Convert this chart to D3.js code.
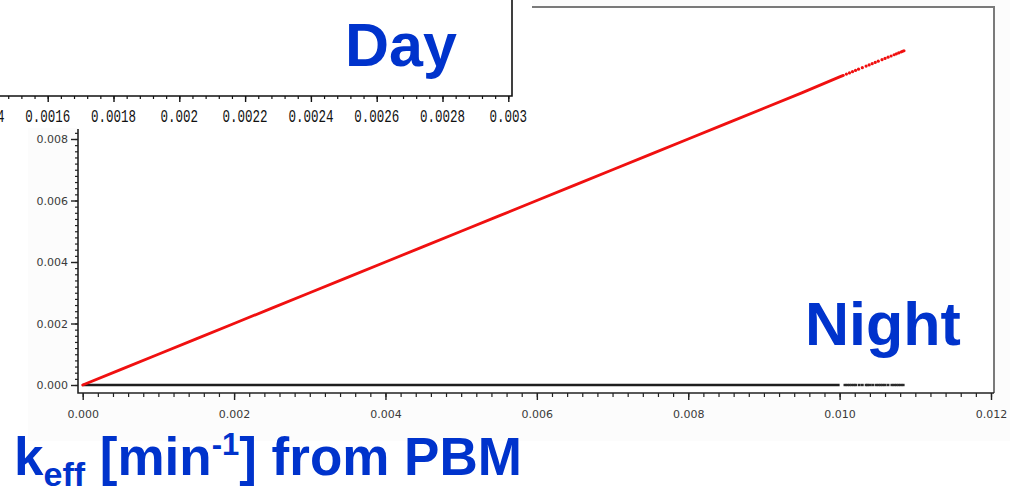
<!DOCTYPE html>
<html>
<head>
<meta charset="utf-8">
<script src="https://cdn.jsdelivr.net/npm/d3@7/dist/d3.min.js"></script>
<style>
  html, body { margin: 0; padding: 0; background: #ffffff; }
  svg { display: block; }
</style>
</head>
<body>
<svg id="chart" width="1017" height="492"></svg>
<script>
// ---- data: effective rate constants, model vs PBM ----
// Night panel x ticks (k_eff from PBM) and y ticks
const nightXTicks = [0, 0.002, 0.004, 0.006, 0.008, 0.010, 0.012];
const nightXLabels = ["0.000", "0.002", "0.004", "0.006", "0.008", "0.010", "0.012"];
const nightYTicks = [0, 0.002, 0.004, 0.006, 0.008];
const nightYLabels = ["0.000", "0.002", "0.004", "0.006", "0.008"];

// Day panel x ticks (only the lower axis strip is shown)
const dayXTicks = [0.0014, 0.0016, 0.0018, 0.002, 0.0022, 0.0024, 0.0026, 0.0028, 0.003];
const dayXLabels = ["0.0014", "0.0016", "0.0018", "0.002", "0.0022", "0.0024", "0.0026", "0.0028", "0.003"];

// Red series: continuous run of points
const redX = [0.0000, 0.0005, 0.0010, 0.0015, 0.0020, 0.0025, 0.0030, 0.0035, 0.0040, 0.0045,
              0.0050, 0.0055, 0.0060, 0.0065, 0.0070, 0.0075, 0.0080, 0.0085, 0.0090, 0.0095, 0.0100, 0.01005];
const redY = [0.0000, 0.0005, 0.0010, 0.0015, 0.0020, 0.0025, 0.0030, 0.0035, 0.0040, 0.0045,
              0.0050, 0.0055, 0.0060, 0.0065, 0.0070, 0.0075, 0.0080, 0.0085, 0.0090, 0.0095, 0.01002, 0.01007];
// Red series: sparse points at the high end
const redTailX = [0.01009, 0.01013, 0.01017, 0.01021, 0.01025, 0.01030, 0.01035, 0.01039, 0.01043, 0.01047,
                  0.01051, 0.01056, 0.01060, 0.01064, 0.01068, 0.01072, 0.01075, 0.01078, 0.01081, 0.01083, 0.01085];
const redTailY = [0.01011, 0.01015, 0.01019, 0.01023, 0.01027, 0.01032, 0.01037, 0.01041, 0.01045, 0.01049,
                  0.01053, 0.01058, 0.01062, 0.01066, 0.01070, 0.01074, 0.01077, 0.01080, 0.01083, 0.01085, 0.01087];

// Black series: continuous run along zero
const blackX = [0.0000, 0.0020, 0.0040, 0.0060, 0.0080, 0.0100];
const blackY = [0, 0, 0, 0, 0, 0];
// Black series: sparse points at the high end
const blackTailX = [0.01007, 0.01010, 0.01013, 0.01016, 0.01019, 0.010215, 0.01026, 0.01030, 0.01035, 0.01037,
                    0.01040, 0.010436, 0.01048, 0.01051, 0.01054, 0.01057, 0.01060, 0.01064, 0.01069, 0.01072,
                    0.01075, 0.01078, 0.01081, 0.01084];
const blackTailY = [0, 0, 0, 0, 0, 0, 0, 0, 0, 0, 0, 0, 0, 0, 0, 0, 0, 0, 0, 0, 0, 0, 0, 0];

const BLUE = "#0033cc";
const svg = d3.select("#chart");

// ---- Night panel ----
const x = d3.scaleLinear().domain([0, 0.012]).range([82.7, 991]);
const y = d3.scaleLinear().domain([0, 0.008]).range([385, 139]);
const frame = { left: 78, right: 994, top: 7, bottom: 393, axisTop: 129 };

// very faint page tint behind the panel, white plotting area
svg.append("rect").attr("x", 28).attr("y", 0).attr("width", 982).attr("height", 441).attr("fill", "#fcfcfc");
svg.append("rect").attr("x", frame.left).attr("y", frame.top)
  .attr("width", frame.right - frame.left).attr("height", frame.bottom - frame.top).attr("fill", "#ffffff");

// top and right frame edges
svg.append("path")
  .attr("d", `M${frame.left},${frame.top}H${frame.right}V${frame.bottom}`)
  .attr("fill", "none").attr("stroke", "#7a7a7a").attr("stroke-width", 2);

// minor + major x ticks
const xMinor = d3.range(0, 0.01201, 0.0002);
const gx = svg.append("g").attr("transform", `translate(0,${frame.bottom})`);
gx.call(d3.axisBottom(x).tickValues(xMinor).tickSize(4).tickFormat(""))
  .call(g => g.select(".domain").remove())
  .selectAll("line").attr("stroke", "#222").attr("stroke-width", 1.2);
const gx2 = svg.append("g").attr("transform", `translate(0,${frame.bottom})`);
gx2.call(d3.axisBottom(x).tickValues(nightXTicks).tickSize(7).tickPadding(10)
    .tickFormat((d, i) => nightXLabels[i]))
  .call(g => g.select(".domain").remove());
gx2.selectAll("line").attr("stroke", "#222").attr("stroke-width", 1.4);
gx2.selectAll("text").attr("font-family", "DejaVu Sans").attr("font-size", 11).attr("fill", "#3a3a3a");

// minor + major y ticks
const yMinor = d3.range(0, 0.00821, 0.0002);
const gy = svg.append("g").attr("transform", `translate(${frame.left},0)`);
gy.call(d3.axisLeft(y).tickValues(yMinor).tickSize(3).tickFormat(""))
  .call(g => g.select(".domain").remove())
  .selectAll("line").attr("stroke", "#222").attr("stroke-width", 1.2);
const gy2 = svg.append("g").attr("transform", `translate(${frame.left},0)`);
gy2.call(d3.axisLeft(y).tickValues(nightYTicks).tickSize(7).tickPadding(3)
    .tickFormat((d, i) => nightYLabels[i]))
  .call(g => g.select(".domain").remove());
gy2.selectAll("line").attr("stroke", "#222").attr("stroke-width", 1.4);
gy2.selectAll("text").attr("font-family", "DejaVu Sans").attr("font-size", 11).attr("fill", "#3a3a3a");

// left and bottom axis lines
svg.append("path")
  .attr("d", `M${frame.left},${frame.axisTop}V${frame.bottom}H${frame.right}`)
  .attr("fill", "none").attr("stroke", "#222").attr("stroke-width", 1.6);

// series
const line = d3.line().x(d => x(d[0])).y(d => y(d[1]));
const blackPts = blackX.map((v, i) => [v, blackY[i]]);
const redPts = redX.map((v, i) => [v, redY[i]]);

svg.append("path").datum(blackPts).attr("d", line)
  .attr("fill", "none").attr("stroke", "#1e1e1e").attr("stroke-width", 2.4);
svg.append("g").selectAll("rect")
  .data(blackTailX.map((v, i) => [v, blackTailY[i]]))
  .join("rect")
  .attr("x", d => x(d[0]) - 1.4).attr("y", d => y(d[1]) - 1.2)
  .attr("width", 2.8).attr("height", 2.4).attr("fill", "#2a2a2a");

svg.append("path").datum(redPts).attr("d", line)
  .attr("fill", "none").attr("stroke", "#f01010").attr("stroke-width", 2.8)
  .attr("stroke-linecap", "round");
svg.append("g").selectAll("circle")
  .data(redTailX.map((v, i) => [v, redTailY[i]]))
  .join("circle")
  .attr("cx", d => x(d[0])).attr("cy", d => y(d[1]))
  .attr("r", 1.6).attr("fill", "#f01010");

// Night label
svg.append("text").attr("x", 805).attr("y", 345)
  .attr("font-family", "Liberation Sans, Arial, sans-serif").attr("font-weight", "bold")
  .attr("font-size", 61).attr("fill", BLUE).text("Night");

// ---- Day panel (overlapping strip at top-left) ----
svg.append("rect").attr("x", 0).attr("y", 0).attr("width", 532).attr("height", 128).attr("fill", "#ffffff");
const xd = d3.scaleLinear().domain([0.0016, 0.003]).range([47.7, 508.3]);
const dayAxisY = 96;
svg.append("path")
  .attr("d", `M0,${dayAxisY}H512V0`)
  .attr("fill", "none").attr("stroke", "#111").attr("stroke-width", 1.6);
const dMinor = d3.range(0.0014, 0.003001, 0.00004);
svg.append("g").attr("transform", `translate(0,${dayAxisY})`)
  .call(d3.axisBottom(xd).tickValues(dMinor).tickSize(3).tickFormat(""))
  .call(g => g.select(".domain").remove())
  .selectAll("line").attr("stroke", "#111").attr("stroke-width", 1.2);
const gd = svg.append("g").attr("transform", `translate(0,${dayAxisY})`);
gd.call(d3.axisBottom(xd).tickValues(dayXTicks).tickSize(6).tickFormat(""))
  .call(g => g.select(".domain").remove());
gd.selectAll("line").attr("stroke", "#111").attr("stroke-width", 1.4);
svg.append("g").selectAll("text")
  .data(dayXTicks)
  .join("text")
  .attr("transform", d => `translate(${xd(d)},121.5) scale(1,1.4)`)
  .attr("text-anchor", "middle")
  .attr("font-family", "Liberation Mono, monospace").attr("font-size", 12.5)
  .attr("fill", "#111")
  .text((d, i) => dayXLabels[i]);

svg.append("text").attr("x", 345).attr("y", 66)
  .attr("font-family", "Liberation Sans, Arial, sans-serif").attr("font-weight", "bold")
  .attr("font-size", 61).attr("fill", BLUE).text("Day");

// ---- axis title ----
const title = svg.append("text").attr("x", 14).attr("y", 475)
  .attr("font-family", "Liberation Sans, Arial, sans-serif").attr("font-weight", "bold")
  .attr("font-size", 53).attr("fill", BLUE);
title.append("tspan").text("k");
title.append("tspan").attr("font-size", 34).attr("dy", 11).text("eff");
title.append("tspan").attr("dy", -11).text(" [min");
title.append("tspan").attr("font-size", 31).attr("dy", -20).text("-1");
title.append("tspan").attr("dy", 20).text("] from PBM");
</script>
</body>
</html>
